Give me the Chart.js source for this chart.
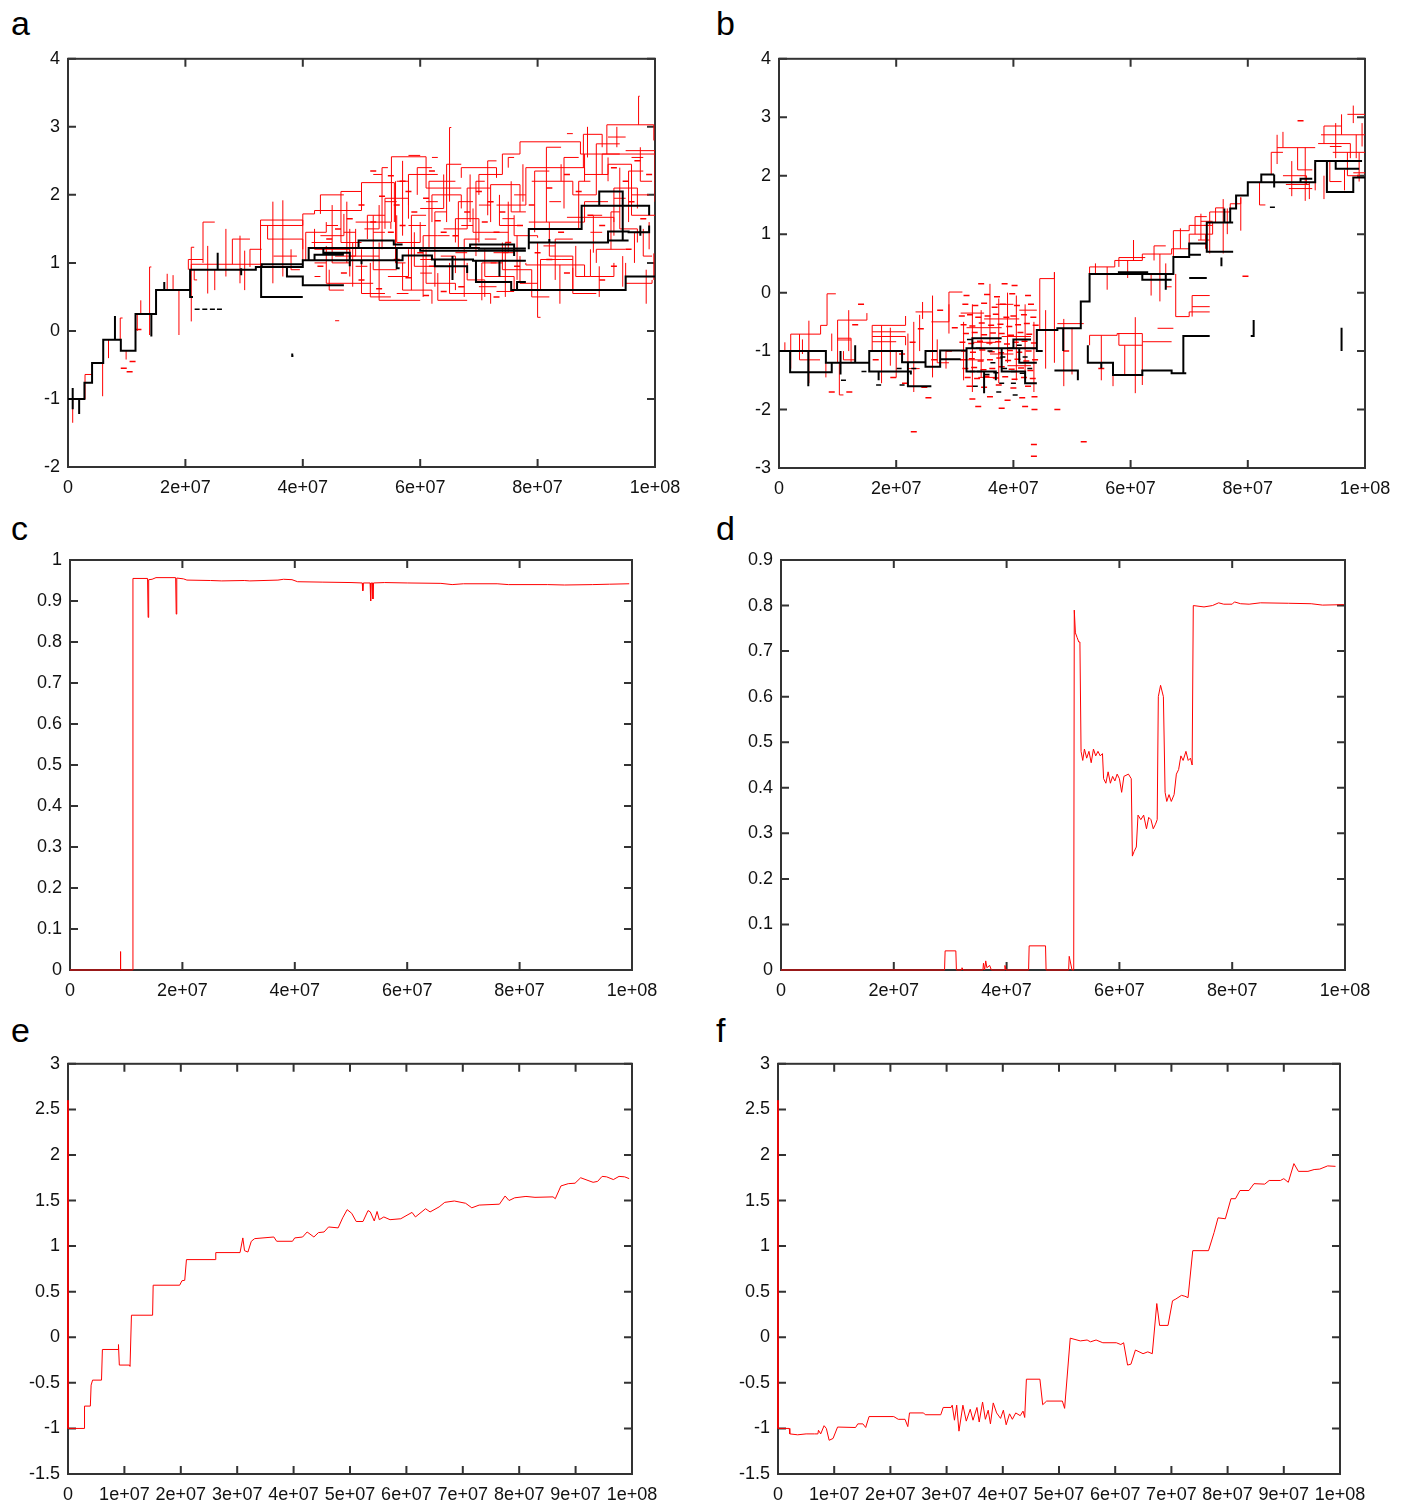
<!DOCTYPE html>
<html>
<head>
<meta charset="utf-8">
<script src="https://cdn.jsdelivr.net/npm/chart.js@4.4.1/dist/chart.umd.min.js"></script>
<style>
  html, body { margin: 0; padding: 0; background: #fff; }
  body { position: relative; width: 1407px; height: 1504px; overflow: hidden; }
  canvas { position: absolute; }
  .tag { position: absolute; font: 34px/1 "Liberation Sans", Arial, sans-serif; color: #000; }
</style>
</head>
<body>
<div class="tag" style="left:11px;top:6px">a</div>
<div class="tag" style="left:716px;top:6px">b</div>
<div class="tag" style="left:11px;top:511px">c</div>
<div class="tag" style="left:716px;top:511px">d</div>
<div class="tag" style="left:11px;top:1013px">e</div>
<div class="tag" style="left:716px;top:1013px">f</div>
<canvas id="pa" width="700" height="470" style="left:0;top:40px"></canvas>
<canvas id="pb" width="707" height="470" style="left:700px;top:40px"></canvas>
<canvas id="pc" width="700" height="470" style="left:0;top:540px"></canvas>
<canvas id="pd" width="707" height="470" style="left:700px;top:540px"></canvas>
<canvas id="pe" width="700" height="459" style="left:0;top:1045px"></canvas>
<canvas id="pf" width="707" height="459" style="left:700px;top:1045px"></canvas>
<script>
// x values are in millions (1e6); every path is a list of [x, y] steps

// ---- panel a: lineage trees ----
const aBlackPaths = [
  [[0,-1],[2.8,-0.76],[4.1,-0.47],[6,-0.13],[9,-0.29],[11.5,0.25],[15,0.6],[20.8,0.9],[32,0.94],[40,1.04],[57,1.04],[57,1.11],[62,1.11],[62,1.05],[69,1.05],[69,1.03],[78,1.03]],
  [[0.8,-0.84],[0.8,-1.15]],
  [[1.9,-1],[1.9,-1.22]],
  [[8,-0.13],[8,0.22]],
  [[14.2,0.25],[14.2,-0.08]],
  [[16.4,0.6],[16.4,0.72]],
  [[20.8,0.6],[20.8,0.5],[21.3,0.5]],
  [[25.5,0.9],[25.5,1.15]],
  [[29.5,0.92],[29.5,0.82]],
  [[32.9,0.94],[32.9,0.5],[40,0.5]],
  [[33,0.94],[33,0.98],[40,0.98]],
  [[37.3,0.94],[37.3,0.8],[40,0.8],[40,0.67],[47,0.67]],
  [[41,1.04],[41,1.22],[56,1.22],[70,1.22],[70,1.21],[78,1.21]],
  [[43.5,1.22],[43.5,1.15],[48,1.15],[48,0.95]],
  [[42,1.04],[42,1.12],[47,1.12]],
  [[49.5,1.22],[49.5,1.33],[55.5,1.33],[55.5,1.27],[57,1.27]],
  [[50,1.04],[50,0.98]],
  [[56,1.22],[56,0.92],[56.5,0.92]],
  [[60,1.22],[60,1.18],[78,1.18]],
  [[62.5,1.05],[62.5,0.95],[68,0.95],[68,0.85]],
  [[65.5,1.1],[65.5,0.75]],
  [[68.5,1.22],[68.5,1.27],[76,1.27],[76,1.1]],
  [[69.5,1.03],[69.5,0.72],[75.5,0.72],[75.5,0.6],[95,0.6],[95,0.8],[100,0.8]],
  [[76.5,0.6],[76.5,0.72],[78,0.72]],
  [[73.5,1.03],[73.5,0.8]],
  [[78.5,1.2],[78.5,1.5],[87.5,1.5],[87.5,1.84],[99,1.84],[99,1.7]],
  [[90.5,1.84],[90.5,2.05],[94.5,2.05],[94.5,1.33]],
  [[78.5,1.2],[78.5,1.3],[92,1.3],[92,1.46],[95.5,1.46],[95.5,1.45],[99,1.45],[99,1.55]],
  [[92,1.33],[95.5,1.33]],
  [[97.5,1.4],[97.5,1.55]],
  [[82,1.3],[82,1.35]],
  [[38.2,-0.33],[38.2,-0.37],[38.4,-0.37]]
];
const aBlackDots = [[22,0.32],[23.3,0.32],[24.6,0.32],[25.8,0.32]];
const aRedPaths = [
  [[0.8,-1],[0.8,-1.35]],
  [[2.9,-1],[2.9,-0.64],[4.2,-0.64]],
  [[5.9,-0.47],[5.9,-0.96]],
  [[6.9,-0.13],[6.9,-0.4]],
  [[8.9,-0.13],[8.9,0.19],[9.3,0.19]],
  [[9.9,-0.29],[9.9,-0.42]],
  [[11.8,0.25],[11.8,0]],
  [[12.4,0.25],[12.4,0.45]],
  [[13.9,0.25],[13.9,0.94],[14.2,0.94]],
  [[13.9,0.25],[13.9,-0.06]],
  [[16.9,0.6],[16.9,0.84]],
  [[17.9,0.6],[17.9,0.82]],
  [[18.9,0.6],[18.9,-0.06]],
  [[21,0.9],[21,1.23],[21.5,1.23]],
  [[21,0.9],[21,0.14]],
  [[21,0.9],[21,0.98],[33,0.98]],
  [[21.5,0.9],[21.5,0.75],[22,0.75]],
  [[20.5,0.9],[20.5,1.05],[23,1.05]],
  [[23,1],[23,1.6],[25,1.6]],
  [[23.8,0.9],[23.8,1.25]],
  [[23.8,0.9],[23.8,0.55]],
  [[25,0.9],[25,0.6]],
  [[26.9,0.9],[26.9,1.5]],
  [[26.9,0.9],[26.9,0.8]],
  [[28,0.98],[28,1.35],[31,1.35]],
  [[29.3,1.4],[29.3,0.7]],
  [[30.1,1.18],[30.1,0.6]],
  [[31,0.94],[31,1.2],[33,1.2]],
  [[32.8,0.94],[32.8,1.63],[40,1.63],[40,1.55]],
  [[32.8,1.55],[40,1.55]],
  [[34,1.55],[34,1.35],[40,1.35],[40,1.2]],
  [[34.9,1.9],[34.9,0.7]],
  [[36.6,1.92],[36.6,0.8]],
  [[35,1.1],[39,1.1]],
  [[38,1.2],[38,0.9],[39.5,0.9]],
  [[40,1.04],[40,1.72],[42,1.72],[42,1.77],[50,1.77],[50,2.18],[55.6,2.18],[55.6,1.6]],
  [[46.5,1.77],[46.5,2.05],[49.9,2.05]],
  [[55.1,1.6],[55.1,2.56],[61,2.56],[61,2.1],[67,2.1]],
  [[40.5,1.04],[40.5,1.45],[44,1.45],[44,1.6]],
  [[41.5,1.3],[45,1.3],[45,1.85]],
  [[43,1.72],[43,2],[47,2]],
  [[42,1.5],[42,1.2],[48,1.2],[48,0.8]],
  [[43,1.4],[47,1.4],[47,1.72]],
  [[44,1.25],[44,0.7],[52,0.7]],
  [[44.5,0.9],[44.5,0.6],[47,0.6]],
  [[45,1.3],[45,1],[48,1]],
  [[45.5,1.1],[49,1.1],[49,1.5]],
  [[46.5,1.77],[46.5,1.3],[50,1.3]],
  [[47.5,1.9],[47.5,1]],
  [[48,1.5],[48,1.1],[53,1.1]],
  [[48.5,0.65],[48.5,1.3]],
  [[49,1.6],[55,1.6],[55,1.5]],
  [[50,1.2],[50,0.55],[54,0.55]],
  [[50.5,1.5],[53,1.5],[53,1.85]],
  [[51,1.35],[51,1.7],[54,1.7]],
  [[51.5,1],[51.5,0.5],[55,0.5]],
  [[52,1.7],[52,0.9],[56,0.9]],
  [[53,1.3],[53,0.45],[60,0.45]],
  [[53.5,1.2],[53.5,2.4],[54.5,2.4]],
  [[54,1.5],[54,1.95],[58,1.95],[58,1.65]],
  [[54.5,0.8],[58,0.8],[58,1.2]],
  [[55.8,2.2],[55.8,1],[57.5,1]],
  [[56,1.7],[56,1.3],[60,1.3],[60,1.6]],
  [[57,1],[57,0.6],[62,0.6],[62,0.4]],
  [[57,1.4],[57,2.5]],
  [[58,1.85],[58,2.3],[63,2.3]],
  [[58.5,0.6],[58.5,1.7],[61,1.7]],
  [[59,1.45],[59,0.95],[64,0.95]],
  [[59.5,2],[59.5,2.4],[62,2.4]],
  [[60,1.8],[64,1.8],[64,2.3]],
  [[60.5,0.5],[60.5,1.4],[63,1.4]],
  [[61,1.2],[61,0.7],[66,0.7],[66,0.6]],
  [[61.5,1.2],[61.5,2.2],[64,2.2]],
  [[62,1.6],[62,2],[67,2],[67,1.8]],
  [[62.5,0.65],[62.5,1.75],[64.5,1.75]],
  [[63,0.85],[63,0.45],[68,0.45]],
  [[63.5,1.1],[66,1.1],[66,0.85]],
  [[64,1.5],[68,1.5],[68,2.1],[72,2.1]],
  [[64.5,1.6],[64.5,2.45],[67,2.45]],
  [[65,1.9],[65,2.99],[65.3,2.99]],
  [[65,1],[65,0.55],[72,0.55],[72,0.4]],
  [[66,1.3],[66,1.65],[70,1.65],[70,1.3]],
  [[66.5,1.2],[66.5,1.9],[69,1.9]],
  [[67,2.25],[67,2.4],[73,2.4],[73,2.25]],
  [[67.5,0.5],[67.5,1.35],[70,1.35]],
  [[68,1],[68,0.75],[71,0.75],[71,0.5]],
  [[68.5,2.3],[68.5,1.6]],
  [[69,1.8],[69,1.45],[75,1.45]],
  [[69.5,1.1],[69.5,2.2],[71,2.2]],
  [[70,2],[70,2.3],[74,2.3],[74,2.6],[77,2.6],[77,2.78],[87.3,2.78],[87.3,2.6],[100,2.6]],
  [[70.5,0.45],[70.5,1],[73,1]],
  [[71,1.2],[71,0.8],[76,0.8],[76,0.6]],
  [[71.5,1.7],[71.5,2.5],[73,2.5]],
  [[72,1.6],[72,2.15],[77,2.15],[77,1.75]],
  [[72.5,1.15],[75,1.15],[75,1.9]],
  [[73,1.85],[78,1.85],[78,2.4],[88,2.4],[88,2.2]],
  [[73.5,2],[73.5,1.55],[77,1.55]],
  [[74,1.3],[74,0.9],[79,0.9],[79,0.5],[82,0.5]],
  [[74.5,0.5],[74.5,1.3]],
  [[75,2.4],[75,2.55],[76,2.55]],
  [[75.5,2.2],[75.5,1.75],[78,1.75]],
  [[76,1.7],[76,1.4],[80,1.4],[80,1.37]],
  [[76.5,0.75],[76.5,1.4]],
  [[77,1.1],[77,0.7],[80,0.7]],
  [[77.5,2.45],[77.5,1.9]],
  [[78,1],[78,0.97],[88,0.97],[88,0.8]],
  [[78.5,1.6],[88,1.6],[88,1.9],[92,1.9]],
  [[79,2.2],[86,2.2],[86,2],[90,2]],
  [[79.5,1.45],[79.5,2.35],[82,2.35]],
  [[80,1.3],[80,0.2],[80.5,0.2]],
  [[80.5,0.6],[80.5,1.05],[84,1.05]],
  [[81.5,1.6],[81.5,2.7],[84,2.7]],
  [[82,1.6],[82,1.1],[86,1.1],[86,0.6]],
  [[83,0.75],[83,1.35],[86,1.35]],
  [[83.8,0.97],[83.8,0.4]],
  [[84.5,1.8],[84.5,2.55],[87,2.55]],
  [[85,1.67],[93,1.67],[93,1.4]],
  [[86,0.93],[86,0.55],[90,0.55]],
  [[86.5,1.25],[86.5,0.8],[89,0.8]],
  [[87,1.5],[87,2.2],[89,2.2]],
  [[87.8,2.4],[87.8,2.89],[91,2.89],[91,2.7]],
  [[88,2.6],[88,2.3],[92,2.3],[92,2.55]],
  [[88.5,2.55],[88.5,3]],
  [[89,1.2],[89,0.8],[93,0.8],[93,1]],
  [[89.5,1.15],[89.5,1.7],[91,1.7]],
  [[90,2],[90,2.75],[94,2.75]],
  [[90.5,0.5],[90.5,0.95]],
  [[91,2.3],[91,2.6],[94,2.6]],
  [[91.8,2.6],[91.8,3.03],[99.8,3.03],[99.8,2.8]],
  [[92,2.2],[92,2.45],[96,2.45],[96,2],[99,2]],
  [[92.5,1.2],[92.5,1.75],[94,1.75]],
  [[93,1.6],[93,2.1],[97,2.1],[97,1.8]],
  [[93.5,2.7],[93.5,3]],
  [[94,2.4],[94,1.5],[97,1.5],[97,1.3]],
  [[94.5,0.65],[94.5,1.1]],
  [[95,2.65],[100,2.65],[100,1.9]],
  [[95.5,1.6],[95.5,2.35],[98,2.35]],
  [[96,2.3],[96,1.7],[100,1.7]],
  [[96.5,1],[96.5,1.45],[99,1.45]],
  [[97.2,3.03],[97.2,3.45],[97.4,3.45]],
  [[97.5,2.7],[97.5,2.2],[99.5,2.2]],
  [[95,1],[95,0.7],[99.5,0.7],[99.5,0.75]],
  [[98,1.5],[98,1.1],[99.5,1.1]],
  [[98.5,0.4],[98.5,0.9]],
  [[99,1.2],[99,1.6]],
  [[99.8,1.14],[99.8,0.75]],
  [[90,1],[90,1.2],[95,1.2]],
  [[84,2.45],[84,2.2]],
  [[45.5,0.15],[46.2,0.15]],
  [[52,2.3],[53.5,2.3]], [[58,2.58],[60,2.58]], [[62,2.55],[63,2.55]],
  [[54,1.9],[56,1.9]], [[56,2.2],[58,2.2]], [[58,1.55],[61,1.55]],
  [[60,1.05],[62,1.05]], [[61,1.9],[63,1.9]], [[63,1.4],[65,1.4]],
  [[66,1.15],[68,1.15]], [[67,1.55],[69,1.55]], [[70,1.85],[72,1.85]],
  [[71,1.35],[73,1.35]], [[72,1],[74,1]], [[74,1.15],[76,1.15]],
  [[74,1.65],[76,1.65]], [[70,0.65],[73,0.65]], [[73,0.58],[76,0.58]],
  [[56,0.55],[58,0.55]], [[49,0.95],[51,0.95]], [[47,1.45],[49,1.45]],
  [[44,1.55],[46,1.55]], [[42,1],[44,1]], [[42,0.8],[43,0.8]],
  [[52,1.45],[54,1.45]], [[60,0.85],[62,0.85]], [[64,2.2],[66,2.2]],
  [[66,1.05],[67,1.05]], [[76,2],[78,2]], [[82,1.9],[84,1.9]],
  [[85,2.9],[86,2.9]], [[92,2.85],[95,2.85]], [[96,2.55],[98,2.55]],
  [[93,1.95],[95,1.95]], [[89,1.45],[91,1.45]], [[81,1.25],[83,1.25]],
  [[84,1.05],[86,1.05]]
];
const aRedDots = [
  [52,2.35],[55,2.28],[57,2.2],[58,2.05],[53.5,1.98],[56,1.85],[59,1.75],[61,1.95],[62,2.35],[63,1.62],
  [64,1.45],[57,1.55],[55,1.45],[52,1.6],[50,1.85],[48,1.65],[46,1.5],[44.5,1.35],[43,0.95],[47,0.85],
  [50,0.75],[53,0.62],[58,0.78],[61,0.52],[64,0.58],[67,0.65],[70,0.72],[73,0.5],[66,1.4],[68,1.75],
  [70,2.05],[72,1.9],[74,1.75],[71,1.6],[73,1.45],[75,1.3],[77,1.55],[79,1.85],[82,2.1],[85,2.3],
  [87,2.05],[89,1.7],[91,1.55],[93,2.4],[95,2.2],[97,2.5],[99,2.3],[96,1.9],[98,1.65],[95.5,1.2],
  [93,0.95],[91,0.75],[88,0.6],[85,0.85],[82,1.05],[84,1.45],[80,1.15],[76.5,0.95],[60,1.15],[62,0.95],
  [56,1.05],[9.5,-0.55],[10.5,-0.6],[11,-0.45],[12,0.02]
];

// ---- panel b: lineage trees ----
const bBlackPaths = [
  [[0,-1],[8,-1.2],[15.4,-1],[21,-1.19],[25,-1.27],[27.5,-0.99],[32,-0.95],[44,-0.64],[47.5,-0.61],[51.5,-0.15],[53,0.32],[67.3,0.61],[70,0.84],[73,1.2],[77,1.44],[78,1.66],[80,1.89],[82.3,2.02],[84.5,2.02]],
  [[82.3,1.89],[91.5,1.89],[91.5,2.25],[99.5,2.25]],
  [[84.5,2.02],[84.5,1.8]],
  [[93.5,2.25],[93.5,1.72],[98,1.72],[98,1.97],[100,1.97]],
  [[95,2.25],[95,2.12],[99,2.12]],
  [[89,1.89],[89,1.95],[91,1.95]],
  [[1.9,-1],[1.9,-1.36],[9,-1.36],[9,-1.2]],
  [[5,-1],[5,-1.6]],
  [[10.5,-1],[10.5,-1.4]],
  [[13,-1.2],[13,-0.9]],
  [[15.4,-1],[15.4,-1.35],[22.5,-1.35],[22.5,-1.4]],
  [[17,-1.35],[17,-1.5]],
  [[22,-1.19],[22,-1.6],[26,-1.6]],
  [[25,-1.27],[25,-1],[27,-1]],
  [[27.5,-1],[27.5,-1.14],[31,-1.14]],
  [[32,-0.95],[32,-1.35],[37,-1.35],[37,-1.5]],
  [[33,-0.95],[33,-0.78],[38,-0.78]],
  [[35,-1.35],[35,-1.72]],
  [[38,-0.95],[38,-1.35],[42,-1.35],[42,-1.55],[44,-1.55]],
  [[40,-0.95],[40,-0.8],[43,-0.8]],
  [[41,-0.95],[41,-1.2],[44,-1.2]],
  [[44,-0.64],[44,-1],[45,-1]],
  [[47,-1.33],[51,-1.33],[51,-1.5]],
  [[48.5,-0.61],[48.5,-1]],
  [[52.7,-0.9],[52.7,-1.2],[57,-1.2],[57,-1.41],[62,-1.41],[62,-1.33],[67,-1.33],[67,-1.38],[69.5,-1.38]],
  [[55,-1.2],[55,-1.3]],
  [[69,-1.38],[69,-0.74],[73.5,-0.74]],
  [[80.5,-0.74],[81,-0.74],[81,-0.47]],
  [[96,-0.6],[96,-1]],
  [[58,0.32],[58,0.35],[63,0.35]],
  [[62,0.32],[62,0.22],[67,0.22]],
  [[66,0.32],[66,0.05]],
  [[70,0.84],[70,0.65],[72,0.65]],
  [[73,1.2],[73,0.7],[77.5,0.7]],
  [[70,0.25],[73,0.25]],
  [[75.5,0.6],[75.5,0.45]],
  [[76,1.44],[76,1.2],[77.5,1.2]]
];
const bBlackDots = [
  [33,-1.35],[34.2,-1.35],[35.5,-1.4],[37,-1.37],[38.5,-1.3],[40,-1.35],[41.5,-1.38],[42.8,-1.3],[34,-0.95],[36,-1],
  [39.5,-0.95],[41,-0.9],[32.5,-0.8],[36.5,-1.2],[38,-1.55],[40,-1.55],[33.5,-1.6],[42,-1.1],[37.5,-1.7],[40.3,-1.75],
  [21,-1.58],[17,-1.58],[11,-1.5],[20.5,-1.3],[23,-1.3],[14.5,-1.35],[38.2,-1.1],[84.2,1.46]
];
const bRedPaths = [
  [[2,-1],[2,-0.71],[7.1,-0.71],[7.1,-0.56],[8.2,-0.56],[8.2,-0.02],[9.7,-0.02]],
  [[5.1,-0.48],[5.1,-1.55]],
  [[2,-1],[2,-1.3]],
  [[3.5,-0.71],[3.5,-1.15],[7,-1.15]],
  [[1,-1],[1,-0.85]],
  [[4,-0.8],[4,-1.05]],
  [[8,-1.2],[8,-1.45]],
  [[9,-0.7],[9,-1]],
  [[10,-1.2],[10,-0.47],[15,-0.47],[15,-0.35]],
  [[10,-0.78],[12.3,-0.78],[12.3,-1.2]],
  [[10,-0.81],[12.3,-0.81]],
  [[11,-1],[11,-1.15],[13,-1.15]],
  [[11.9,-0.3],[11.9,-1]],
  [[10.3,-1.2],[10.3,-1.75],[11,-1.75]],
  [[15.9,-1],[15.9,-0.56],[21.6,-0.56],[21.6,-0.4]],
  [[15.9,-0.67],[21.6,-0.67]],
  [[15.9,-0.75],[21.6,-0.75],[21.6,-0.9]],
  [[15.9,-0.84],[20,-0.84]],
  [[17.5,-0.56],[17.5,-1.55]],
  [[19,-0.6],[19,-1.25]],
  [[20,-1],[20,-1.45]],
  [[22,-0.7],[22,-1.3],[24,-1.3]],
  [[23,-0.5],[23,-1.7]],
  [[23.3,-0.33],[26.2,-0.33],[26.2,-0.5]],
  [[24.5,-0.16],[24.5,-0.45]],
  [[26.2,-0.05],[26.2,-1.45]],
  [[24,-0.38],[24,-1]],
  [[26,-0.5],[29,-0.5],[29,0.01],[31.3,0.01]],
  [[29,-0.2],[29,-0.7]],
  [[27,-0.8],[27,-1.2],[29,-1.2]],
  [[28.5,-1],[28.5,-1.3]],
  [[31.5,-0.5],[31.5,-1.5]], [[33,-0.2],[33,-1.7]], [[34.5,-0.3],[34.5,-1.45]],
  [[36,0.15],[36,-0.9]], [[37.5,-0.1],[37.5,-1.55]], [[39,0],[39,-1.2]],
  [[40.5,-0.05],[40.5,-1.5]], [[42,-0.2],[42,-1.4]], [[43.5,-0.5],[43.5,-1.7]],
  [[31,-0.35],[35,-0.35]], [[32,-0.6],[38,-0.6]], [[33,-0.85],[37,-0.85]],
  [[35,-0.45],[41,-0.45]], [[36,-1.05],[40,-1.05]], [[38,-0.75],[43,-0.75]],
  [[39,-1.25],[43,-1.25]], [[32,-1.15],[35,-1.15]], [[40,-0.95],[44,-0.95]],
  [[34,-1.45],[37,-1.45]], [[41,-0.3],[44,-0.3]], [[37,-0.2],[40,-0.2]],
  [[44.5,-0.64],[44.5,0.24],[47,0.24],[47,0.35]],
  [[47,0.35],[47,-1.2]],
  [[47.5,-0.53],[52,-0.53]],
  [[48.6,-0.45],[48.6,-1.6]],
  [[45.5,-0.3],[45.5,-1.3]],
  [[50,-0.6],[50,-1.4]],
  [[53,0.32],[53,0.44],[57.3,0.44],[57.3,0.55],[62,0.55],[62,0.66],[67,0.66],[67,0.75],[70,0.75],[70,1],[74,1],[74,1.2]],
  [[58,0.44],[58,0.6],[62.5,0.6]],
  [[54,0.32],[54,0.5]],
  [[56,0.44],[56,0.05]],
  [[59.5,0.55],[59.5,0.25]],
  [[60.5,0.55],[60.5,0.9]],
  [[63.5,0.32],[63.5,-0.05]],
  [[64,0.55],[64,0.8],[66,0.8]],
  [[65,0.66],[65,-0.15]],
  [[66,0.5],[66,0.1],[67,0.1]],
  [[67.3,0.61],[67.3,1.06],[70,1.06],[70,1.15],[73.5,1.15],[73.5,1.38],[77,1.38],[77,1.52],[78.8,1.52],[78.8,1.63]],
  [[68.5,0.75],[68.5,1.1]],
  [[73.5,1.23],[73.5,0.67]],
  [[72.8,1],[72.8,0.75]],
  [[74.5,1.2],[74.5,1.45],[76,1.45]],
  [[75.8,1.6],[75.8,0.67]],
  [[76.5,1.44],[76.5,1]],
  [[78.8,1.63],[78.8,1.06]],
  [[71,1],[71,1.3],[73,1.3]],
  [[72,0.9],[72,1.35]],
  [[72.5,1.15],[74,1.15]],
  [[71.5,0.9],[73.5,0.9]],
  [[72,1.22],[74,1.22]],
  [[67.7,0.32],[67.7,-0.41],[70,-0.41],[70,-0.33],[73.5,-0.33]],
  [[70.5,-0.24],[73.5,-0.24]],
  [[70.5,-0.05],[73.5,-0.05]],
  [[70.5,-0.05],[70.5,-0.41]],
  [[53,-0.9],[53,-0.73],[57.7,-0.73],[57.7,-0.7],[62,-0.7],[62,-0.84],[67,-0.84]],
  [[58,-0.7],[58,-0.9],[62,-0.9]],
  [[60.8,-0.42],[60.8,-1.72]],
  [[62,-0.84],[62,-1.58]],
  [[64.6,-0.61],[67.3,-0.61]],
  [[55,-0.73],[55,-1.5]],
  [[57,-1.2],[57,-1.6]],
  [[59,-0.9],[59,-1.4]],
  [[82,1.89],[82,1.5],[83,1.5]],
  [[84,2.02],[84,2.4],[86,2.4]],
  [[85,2.2],[85,2.7]],
  [[85,2.48],[91.5,2.48]],
  [[86,2.48],[86,2.75]],
  [[88.5,2.48],[88.5,2.1],[91,2.1]],
  [[89.8,2.48],[89.8,1.57]],
  [[90.5,1.89],[90.5,1.6]],
  [[86,2],[90,2],[90,1.85]],
  [[86.5,1.85],[90.5,1.85]],
  [[87,1.78],[91,1.78]],
  [[87.5,2.25],[87.5,1.65]],
  [[92,2.55],[97.5,2.55],[97.5,2.3]],
  [[93,2.55],[93,2.85],[96,2.85]],
  [[92.5,2.7],[100,2.7]],
  [[96,2.7],[96,3.05]],
  [[97,3.05],[100,3.05]],
  [[98,3.2],[98,2.9]],
  [[98.5,2.7],[98.5,2.3]],
  [[99.5,2.9],[99.5,2.5]],
  [[94.5,2.4],[100,2.4]],
  [[92,2.25],[99,2.25]],
  [[94,2.25],[94,1.9],[96,1.9]],
  [[95,2.9],[95,2.3]],
  [[96.5,2.1],[96.5,1.75]],
  [[97,2.4],[97,2],[99,2]],
  [[99,2.4],[99,1.9]],
  [[91.5,2.2],[91.5,1.75]],
  [[93,2],[93,1.6]],
  [[98,2.05],[100,2.05]],
  [[94,2.5],[96,2.5]]
];
const bRedDots = [
  [34.5,0.15],[38.5,0.15],[40.2,0.12],
  [32,-0.05],[35.5,-0.03],[37.2,-0.07],[39.8,-0.02],[42.5,-0.05],
  [31.8,-0.2],[33.5,-0.22],[35,-0.18],[36.8,-0.25],[38.2,-0.2],[40.6,-0.22],[43,-0.2],
  [31.2,-0.4],[32.6,-0.38],[34,-0.42],[35.6,-0.4],[37,-0.37],[38.8,-0.42],[40,-0.4],[41.8,-0.38],[43.4,-0.42],
  [31.5,-0.55],[33,-0.57],[34.6,-0.52],[36.2,-0.56],[37.8,-0.54],[39.3,-0.58],[40.8,-0.55],[42.3,-0.53],[43.8,-0.56],
  [31.9,-0.7],[33.4,-0.68],[35,-0.72],[36.5,-0.69],[38,-0.7],[39.6,-0.73],[41.2,-0.68],[42.7,-0.71],
  [31.3,-0.85],[32.8,-0.87],[34.3,-0.83],[35.9,-0.86],[37.4,-0.84],[38.9,-0.88],[40.4,-0.85],[41.9,-0.83],[43.5,-0.86],
  [31.6,-1],[33.1,-1.02],[34.7,-0.98],[36.3,-1.01],[37.9,-1.03],[39.4,-0.99],[41,-1.02],[42.6,-1],
  [31.4,-1.15],[32.9,-1.13],[34.4,-1.17],[36,-1.15],[37.6,-1.12],[39.1,-1.16],[40.7,-1.14],[42.2,-1.17],[43.7,-1.15],
  [31.8,-1.3],[33.3,-1.28],[34.9,-1.32],[36.4,-1.3],[38,-1.27],[39.7,-1.31],[41.3,-1.29],[42.9,-1.33],
  [32.2,-1.45],[33.8,-1.47],[35.4,-1.43],[37,-1.46],[38.6,-1.44],[40.2,-1.48],[41.8,-1.45],[43.3,-1.47],
  [32.5,-1.6],[35,-1.62],[37.5,-1.58],[40,-1.63],[42.5,-1.6],
  [33,-1.82],[36,-1.78],[39,-1.84],[41.5,-1.8],[43.6,-1.78],
  [34,-1.95],[38,-1.98],[42,-1.95],[43.6,-2],
  [79.6,0.28],[89,2.94],[52,-2.55],[43.5,-2.6],[43.5,-2.8],[23,-2.38],[47.5,-2],[21.5,-1.55],[12,-1.7],
  [24.8,-1.62],[25.5,-1.8],[19.5,-1.45],[26.5,-1.15],[9,-1.7],[29,-1],[30,-0.6],[27.5,-0.3],[14,-0.2],
  [13,-0.55],[16.5,-1.15],[21,-1.05],[22.8,-0.85],[24.2,-0.62],[55,-1.3],[49,-1]
];

// ---- panel c ----
const cPoints = [
  [0,0],[8.9,0],[8.9,0.045],[9.05,0.045],[9.05,0],[11.1,0],[11.2,0.955],[13.8,0.955],[13.9,0.86],[14,0.952],
  [14.6,0.953],[15.3,0.957],[18.8,0.957],[18.9,0.868],[19,0.956],[20.2,0.954],[20.8,0.951],[25,0.95],[27,0.949],
  [31,0.95],[32,0.949],[37,0.951],[38,0.953],[39.5,0.952],[40.5,0.947],[45,0.946],[50,0.945],[52,0.944],
  [52.1,0.925],[52.2,0.944],[53.4,0.944],[53.5,0.9],[53.6,0.944],[53.85,0.944],[53.9,0.905],[54,0.944],
  [56,0.945],[60,0.944],[66,0.943],[68,0.94],[70,0.942],[76,0.942],[78,0.94],[85,0.94],[88,0.939],
  [93,0.94],[96,0.941],[99.5,0.942]
];

// ---- panel d ----
const dPoints = [
  [0,0],[29,0],[29.1,0.042],[31,0.042],[31.1,0],[32,0],[32.1,0.005],[32.3,0],[35.8,0],[35.9,0.015],
  [36.1,0],[36.3,0.02],[36.5,0.005],[37,0.01],[37.3,0],[39.6,0],[39.7,0.01],[39.9,0],[43.9,0],[44,0.053],
  [46.9,0.053],[47,0],[51,0],[51.1,0.03],[51.6,0],[51.9,0],[52,0.79],[52.2,0.74],[52.5,0.73],[52.8,0.72],
  [53,0.72],[53.2,0.48],[53.5,0.46],[53.8,0.485],[54.2,0.465],[54.6,0.48],[55,0.455],[55.4,0.485],[55.8,0.47],
  [56.2,0.48],[56.6,0.47],[57,0.475],[57.2,0.42],[57.6,0.41],[58,0.435],[58.4,0.41],[58.8,0.425],[59.2,0.415],
  [59.6,0.43],[60,0.42],[60.4,0.39],[60.8,0.425],[61.6,0.43],[62.1,0.42],[62.3,0.25],[62.6,0.26],[63,0.27],
  [63.3,0.34],[63.8,0.33],[64.3,0.34],[64.8,0.31],[65.2,0.335],[65.6,0.33],[66,0.31],[66.4,0.32],[66.7,0.33],
  [66.9,0.6],[67.3,0.625],[67.8,0.6],[68.1,0.39],[68.4,0.37],[68.8,0.385],[69.2,0.37],[69.7,0.385],[70.1,0.43],
  [70.5,0.44],[70.9,0.47],[71.3,0.46],[71.8,0.48],[72.2,0.46],[72.6,0.465],[72.9,0.45],[73.1,0.8],[75,0.797],
  [76.5,0.8],[77.6,0.806],[78.5,0.803],[80,0.803],[80.4,0.808],[81.5,0.804],[83,0.803],[85,0.806],[90,0.805],
  [94,0.804],[96,0.801],[99.8,0.802]
];

// ---- panel e ----
const ePoints = [
  [0,2.6],[0,-1],[2.93,-1],[2.93,-0.755],[3.96,-0.755],[4.1,-0.525],[4.36,-0.47],[5.94,-0.47],[6.1,-0.134],
  [8.95,-0.134],[8.95,-0.08],[9.1,-0.305],[10.9,-0.305],[11,-0.32],[11.25,0.242],[15,0.242],[15.1,0.571],
  [19.8,0.571],[20.2,0.62],[20.7,0.625],[21,0.852],[26.1,0.852],[26.2,0.929],[30.5,0.929],[31,1.09],
  [31.3,0.95],[31.9,0.935],[32.5,1.053],[33.1,1.082],[36.5,1.1],[37,1.053],[39.8,1.053],[40.2,1.09],
  [41.6,1.1],[42.4,1.155],[43.6,1.1],[44.4,1.148],[45.4,1.155],[46.2,1.21],[47.9,1.2],[48.7,1.31],[49.5,1.4],
  [50.3,1.36],[51.1,1.27],[52.3,1.27],[53.2,1.39],[53.6,1.375],[54.3,1.276],[54.8,1.38],[55.2,1.29],[56,1.32],
  [57.1,1.29],[59,1.3],[61,1.37],[61.6,1.32],[63.4,1.41],[64.2,1.375],[65.8,1.43],[66.8,1.48],[68.5,1.495],
  [70.5,1.47],[71.6,1.42],[72.9,1.45],[76.5,1.46],[77.5,1.55],[78.2,1.5],[79.2,1.53],[81.2,1.545],[82.8,1.535],
  [86,1.54],[86.4,1.52],[87.4,1.66],[88.7,1.685],[89.9,1.69],[90.9,1.75],[92.2,1.72],[93.1,1.7],[93.9,1.71],
  [94.7,1.765],[95.5,1.76],[96.7,1.73],[97.7,1.765],[98.7,1.76],[99.5,1.74]
];

// ---- panel f ----
const fPoints = [
  [0,2.6],[0,-1],[2,-1],[2.1,-1.06],[3.5,-1.07],[5,-1.06],[6.5,-1.06],[7.1,-1.06],[7.2,-1.02],[7.6,-1.06],
  [8.2,-0.97],[8.6,-1],[9.1,-1.13],[9.8,-1.11],[10.6,-0.985],[13.8,-0.99],[14.2,-0.95],[15.1,-0.95],[15.6,-0.99],
  [16.2,-0.87],[20.6,-0.87],[21.4,-0.9],[22.6,-0.9],[23.1,-0.98],[23.4,-0.83],[25.9,-0.83],[26.2,-0.85],
  [28.96,-0.85],[29.4,-0.77],[30.8,-0.77],[31,-0.745],[31.4,-0.91],[31.8,-0.745],[32.2,-1.03],[32.9,-0.745],
  [33.5,-0.92],[34.2,-0.79],[34.7,-0.91],[35.4,-0.77],[35.8,-0.93],[36.4,-0.71],[36.9,-0.9],[37.4,-0.8],
  [37.8,-0.95],[38.3,-0.72],[38.9,-0.83],[39.6,-0.89],[40.1,-0.8],[40.6,-0.96],[41.2,-0.84],[41.7,-0.9],
  [42.3,-0.83],[43.1,-0.86],[43.6,-0.81],[43.9,-0.88],[44.2,-0.46],[46.6,-0.46],[47.1,-0.74],[47.8,-0.7],
  [50.6,-0.7],[51,-0.78],[52,-0.01],[53.8,-0.04],[55,-0.03],[55.6,-0.05],[56.6,-0.03],[57.8,-0.06],[60.2,-0.06],
  [61,-0.08],[61.5,-0.06],[62.2,-0.305],[62.8,-0.295],[63.6,-0.14],[64.96,-0.18],[65.8,-0.16],[66.6,-0.18],
  [67.4,0.37],[67.9,0.13],[69.4,0.13],[70.2,0.4],[70.8,0.42],[71.8,0.46],[72.4,0.45],[72.96,0.435],[73.8,0.95],
  [76.6,0.95],[77.6,1.15],[78.3,1.31],[79.6,1.3],[80.6,1.52],[81.4,1.52],[82.2,1.61],[83.8,1.61],[84.7,1.685],
  [86.6,1.68],[87.4,1.72],[89.4,1.72],[90,1.74],[90.8,1.7],[91.8,1.905],[92.6,1.82],[94.3,1.82],[95.4,1.84],
  [96.4,1.845],[97.8,1.88],[99.2,1.875]
];

const RED = '#ff0000';
const BLACK = '#000000';
const FONT = '"Liberation Sans", Arial, Helvetica, sans-serif';

function pathsToData(paths) {
  const out = [];
  paths.forEach(p => {
    p.forEach(([x, y]) => out.push({ x, y }));
    out.push({ x: p[p.length - 1][0], y: null });
  });
  return out;
}
const pts = arr => arr.map(([x, y]) => ({ x, y }));

const xLabel = v => v === 0 ? '0' : (v >= 100 ? '1e+08' : (v / 10) + 'e+07');
const yLabel = v => String(+v.toFixed(2));

// gnuplot style box with inward tick marks on all four sides
const gnuFrame = {
  id: 'gnuFrame',
  beforeDatasetsDraw(chart) {
    const { ctx, chartArea: { left, top, right, bottom }, scales: { x, y } } = chart;
    const len = 8;
    ctx.save();
    ctx.strokeStyle = '#333';
    ctx.lineWidth = 2;
    ctx.strokeRect(left, top, right - left, bottom - top);
    ctx.beginPath();
    x.ticks.forEach(t => {
      const px = x.getPixelForValue(t.value);
      ctx.moveTo(px, bottom); ctx.lineTo(px, bottom - len);
      ctx.moveTo(px, top); ctx.lineTo(px, top + len);
    });
    y.ticks.forEach(t => {
      const py = y.getPixelForValue(t.value);
      ctx.moveTo(left, py); ctx.lineTo(left + len, py);
      ctx.moveTo(right, py); ctx.lineTo(right - len, py);
    });
    ctx.stroke();
    ctx.restore();
  }
};

function makePanel(id, cfg) {
  const canvas = document.getElementById(id);
  const [cx, cy] = cfg.origin;
  const [L, T, R, B] = cfg.area;
  new Chart(canvas, {
    type: 'line',
    plugins: [gnuFrame],
    data: { datasets: cfg.datasets },
    options: {
      responsive: false,
      animation: false,
      devicePixelRatio: 1,
      layout: { padding: { left: 0, top: T - cy, right: cx + canvas.width - R, bottom: 0 } },
      plugins: { legend: { display: false }, tooltip: { enabled: false } },
      elements: { point: { radius: 0 }, line: { tension: 0 } },
      scales: {
        x: {
          type: 'linear', min: 0, max: 100,
          grid: { display: false, drawTicks: false },
          border: { display: false },
          afterFit: s => { s.height = cy + canvas.height - B; },
          ticks: {
            stepSize: cfg.xStep, autoSkip: false, maxRotation: 0, padding: 10,
            color: '#111', font: { family: FONT, size: 18 },
            callback: xLabel
          }
        },
        y: {
          type: 'linear', min: cfg.yMin, max: cfg.yMax,
          grid: { display: false, drawTicks: false },
          border: { display: false },
          afterFit: s => { s.width = L - cx; },
          ticks: {
            stepSize: cfg.yStep, autoSkip: false, padding: 8,
            color: '#111', font: { family: FONT, size: 18 },
            callback: yLabel
          }
        }
      }
    }
  });
}

function treeSets(blackPaths, blackDots, redPaths, redDots) {
  return [
    { data: pathsToData(blackPaths), borderColor: BLACK, borderWidth: 2, stepped: true, spanGaps: false, pointRadius: 0 },
    { data: pts(blackDots), showLine: false, pointStyle: 'line', pointRadius: 2.5, pointBorderWidth: 1.5, pointBorderColor: BLACK, borderColor: BLACK },
    { data: pathsToData(redPaths), borderColor: RED, borderWidth: 1, stepped: true, spanGaps: false, pointRadius: 0 },
    { data: pts(redDots), showLine: false, pointStyle: 'line', pointRadius: 3, pointBorderWidth: 1.5, pointBorderColor: RED, borderColor: RED }
  ];
}
const curveSet = arr => [{ data: pts(arr), borderColor: RED, borderWidth: 1, pointRadius: 0, clip: false }];

makePanel('pa', { origin: [0, 40], area: [68, 58, 655, 467], xStep: 20, yMin: -2, yMax: 4, yStep: 1,
  datasets: treeSets(aBlackPaths, aBlackDots, aRedPaths, aRedDots) });
makePanel('pb', { origin: [700, 40], area: [779, 58, 1365, 468], xStep: 20, yMin: -3, yMax: 4, yStep: 1,
  datasets: treeSets(bBlackPaths, bBlackDots, bRedPaths, bRedDots) });
makePanel('pc', { origin: [0, 540], area: [70, 560, 632, 970], xStep: 20, yMin: 0, yMax: 1, yStep: 0.1,
  datasets: curveSet(cPoints) });
makePanel('pd', { origin: [700, 540], area: [781, 560, 1345, 970], xStep: 20, yMin: 0, yMax: 0.9, yStep: 0.1,
  datasets: curveSet(dPoints) });
makePanel('pe', { origin: [0, 1045], area: [68, 1063, 632, 1474], xStep: 10, yMin: -1.5, yMax: 3, yStep: 0.5,
  datasets: curveSet(ePoints) });
makePanel('pf', { origin: [700, 1045], area: [778, 1063, 1340, 1474], xStep: 10, yMin: -1.5, yMax: 3, yStep: 0.5,
  datasets: curveSet(fPoints) });
</script>
</body>
</html>
